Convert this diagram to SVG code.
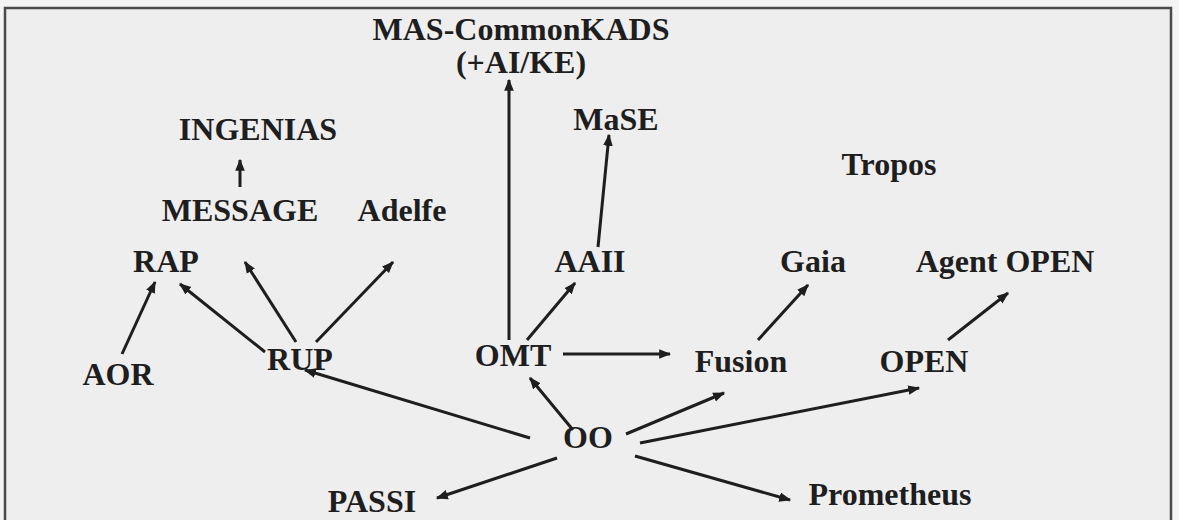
<svg xmlns="http://www.w3.org/2000/svg" width="1179" height="520" viewBox="0 0 1179 520">
<style>
.t{font-family:"Liberation Serif","Times New Roman",serif;font-weight:bold;font-size:32px;fill:#1e1e1e;text-anchor:middle}
.c line{stroke:#1e1e1e;stroke-width:3;marker-end:url(#ah)}
</style>
<defs>
<marker id="ah" viewBox="0 0 10 10" refX="9" refY="5" markerWidth="4" markerHeight="4" orient="auto" markerUnits="strokeWidth">
<path d="M0,1 L10,5 L0,9 Z" fill="#1e1e1e"/>
</marker>
</defs>
<rect x="0" y="0" width="1179" height="520" fill="#f4f4f4"/>
<rect x="5" y="8" width="1166" height="530" fill="#eeeeee" stroke="#4a4a4a" stroke-width="2.5"/>
<g class="c" id="connectors">
<line x1="240" y1="187" x2="240" y2="160"/>
<line x1="296" y1="342" x2="245" y2="262"/>
<line x1="316" y1="342" x2="393" y2="262"/>
<line x1="265" y1="352" x2="180" y2="284"/>
<line x1="122" y1="354" x2="155" y2="282"/>
<line x1="509" y1="340" x2="509" y2="80"/>
<line x1="527" y1="340" x2="575" y2="283"/>
<line x1="598" y1="247" x2="609" y2="135"/>
<line x1="563" y1="354" x2="670" y2="354"/>
<line x1="758" y1="340" x2="808" y2="285"/>
<line x1="948" y1="340" x2="1008" y2="293"/>
<line x1="530" y1="438" x2="305" y2="370"/>
<line x1="573" y1="430" x2="530" y2="378"/>
<line x1="626" y1="434" x2="724" y2="393"/>
<line x1="640" y1="443" x2="919" y2="388"/>
<line x1="557" y1="458" x2="437" y2="498"/>
<line x1="635" y1="456" x2="790" y2="500"/>
</g>
<g id="n-mas"><text class="t" x="521" y="40">MAS-CommonKADS</text><text class="t" x="521" y="73">(+AI/KE)</text></g>
<g id="n-ingenias"><text class="t" x="258" y="140">INGENIAS</text></g>
<g id="n-message"><text class="t" x="240" y="221">MESSAGE</text></g>
<g id="n-adelfe"><text class="t" x="402" y="221">Adelfe</text></g>
<g id="n-mase"><text class="t" x="616" y="130">MaSE</text></g>
<g id="n-tropos"><text class="t" x="889" y="175">Tropos</text></g>
<g id="n-rap"><text class="t" x="166" y="272">RAP</text></g>
<g id="n-aaii"><text class="t" x="590" y="272">AAII</text></g>
<g id="n-gaia"><text class="t" x="813" y="272">Gaia</text></g>
<g id="n-agentopen"><text class="t" x="1005" y="272">Agent OPEN</text></g>
<g id="n-aor"><text class="t" x="118" y="385">AOR</text></g>
<g id="n-rup"><text class="t" x="300" y="370">RUP</text></g>
<g id="n-omt"><text class="t" x="513" y="366">OMT</text></g>
<g id="n-fusion"><text class="t" x="741" y="372">Fusion</text></g>
<g id="n-open"><text class="t" x="924" y="372">OPEN</text></g>
<g id="n-oo"><text class="t" x="588" y="448">OO</text></g>
<g id="n-passi"><text class="t" x="372" y="512">PASSI</text></g>
<g id="n-prometheus"><text class="t" x="890" y="505">Prometheus</text></g>
</svg>
